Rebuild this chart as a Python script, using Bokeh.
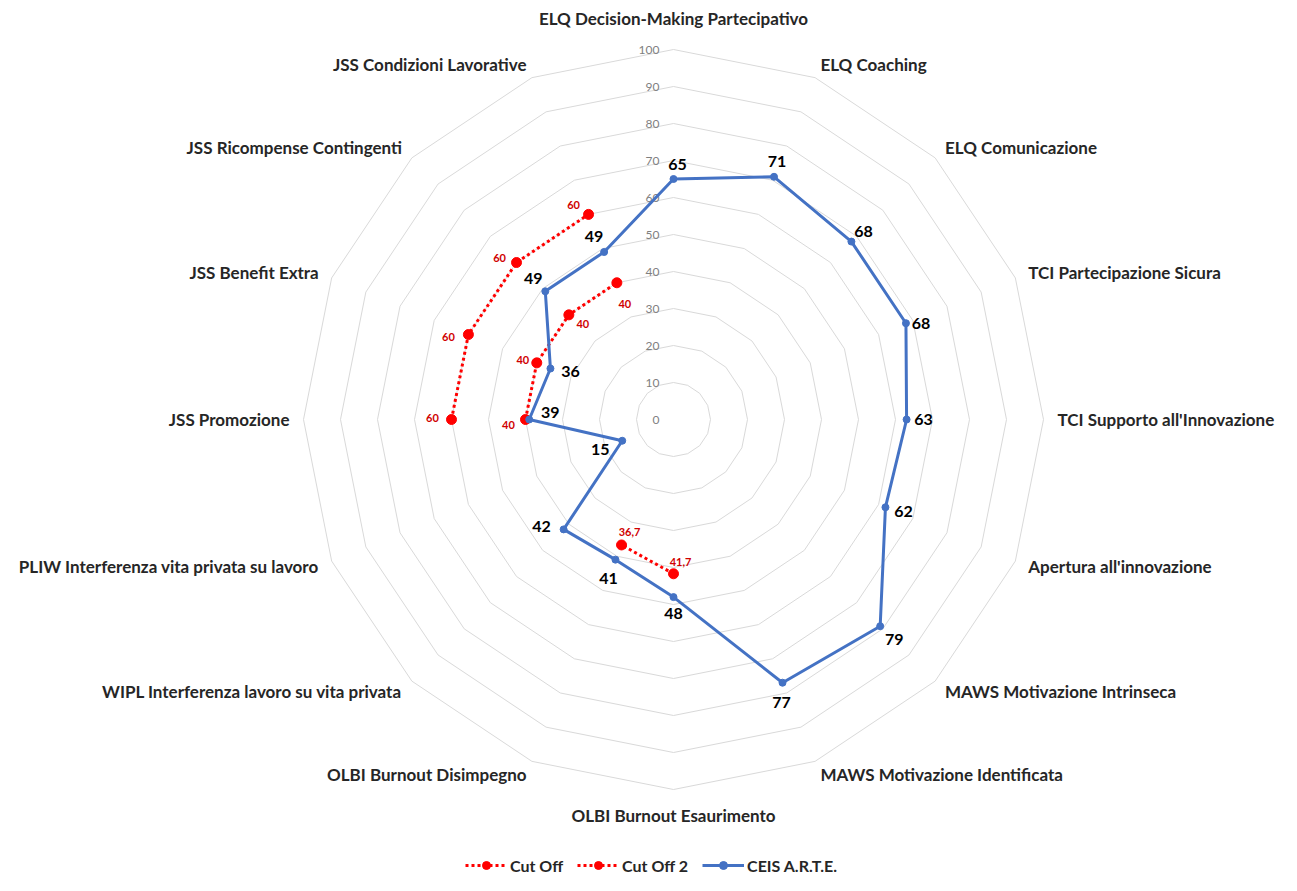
import math
from bokeh.plotting import figure
from bokeh.models import ColumnDataSource, Range1d, Legend, LegendItem
from bokeh.core.properties import value
from bokeh.embed import file_html
from bokeh.resources import INLINE

# ---------------- data ----------------
categories = [
    "ELQ Decision-Making Partecipativo",
    "ELQ Coaching",
    "ELQ Comunicazione",
    "TCI Partecipazione Sicura",
    "TCI Supporto all'Innovazione",
    "Apertura all'innovazione",
    "MAWS Motivazione Intrinseca",
    "MAWS Motivazione Identificata",
    "OLBI Burnout Esaurimento",
    "OLBI Burnout Disimpegno",
    "WIPL Interferenza lavoro su vita privata",
    "PLIW Interferenza vita privata su lavoro",
    "JSS Promozione",
    "JSS Benefit Extra",
    "JSS Ricompense Contingenti",
    "JSS Condizioni Lavorative",
]
ceis = [65, 71, 68, 68, 63, 62, 79, 77, 48, 41, 42, 15, 39, 36, 49, 49]
nan = float("nan")
cut_off = [nan, nan, nan, nan, nan, nan, nan, nan, 41.7, 36.7, nan, nan, 40, 40, 40, 40]
cut_off2 = [nan, nan, nan, nan, nan, nan, nan, nan, nan, nan, nan, nan, 60, 60, 60, 60]
ticks = [0, 10, 20, 30, 40, 50, 60, 70, 80, 90, 100]

# ---------------- layout ----------------
W, H = 1280, 875
S = 3.7             # pixels per value unit
CX, CY = 673, 419   # centre in canvas pixels
N = len(categories)
ang = [2 * math.pi * i / N for i in range(N)]

p = figure(width=W, height=H, output_backend="svg", toolbar_location=None,
           x_range=Range1d(-CX / S, (W - CX) / S),
           y_range=Range1d(-(H - CY) / S, CY / S),
           x_axis_type=None, y_axis_type=None, min_border=0)
p.grid.visible = False
p.outline_line_color = None
p.background_fill_color = "white"

FONT = value("Lato")

# rings
xs, ys = [], []
for t in ticks[1:]:
    xs.append([t * math.sin(a) for a in ang] + [0])
    ys.append([t * math.cos(a) for a in ang] + [t])
p.multi_line(xs, ys, line_color="#d9d9d9", line_width=1)

# tick labels
p.text(x=[-3.8] * len(ticks), y=ticks, text=[str(t) for t in ticks],
       text_font=FONT, text_font_size="12px", text_color="#7f7f7f",
       text_align="right", text_baseline="middle")

# category labels
RL = 384 / S
for align, cond in (("left", lambda s: s > 0.01), ("right", lambda s: s < -0.01),
                    ("center", lambda s: abs(s) <= 0.01)):
    lx, ly, lt = [], [], []
    for c, a in zip(categories, ang):
        s = math.sin(a)
        if cond(s):
            if abs(s) > 0.01:
                r = RL
            else:
                r = (401 if math.cos(a) > 0 else 396) / S
            lx.append(r * s)
            ly.append(r * math.cos(a))
            lt.append(c)
    p.text(x=lx, y=ly, text=lt, text_font=FONT, text_font_style="bold",
           text_font_size="17px", text_color="#262626",
           text_align=align, text_baseline="middle")


def xy(vals, close=False):
    x = [v * math.sin(a) for v, a in zip(vals, ang)]
    y = [v * math.cos(a) for v, a in zip(vals, ang)]
    if close:
        x.append(x[0]); y.append(y[0])
    return x, y


RED = "#ff0000"
BLUE = "#4472c4"

# Cut Off series
items = []
for name, vals in (("Cut Off", cut_off), ("Cut Off 2", cut_off2)):
    x, y = xy(vals)
    r1 = p.line(x, y, line_color=RED, line_width=3, line_dash="3 3")
    r2 = p.scatter(x, y, size=10, fill_color=RED, line_color=RED)
    items.append(LegendItem(label=name, renderers=[r1, r2]))

x, y = xy(ceis, close=True)
r1 = p.line(x, y, line_color=BLUE, line_width=3)
x, y = xy(ceis)
r2 = p.scatter(x, y, size=7, fill_color=BLUE, line_color=BLUE)
items.append(LegendItem(label="CEIS A.R.T.E.", renderers=[r1, r2]))

# blue data labels (pixel offsets of label from point; y down)
blue_off = [(4, -15), (3, -15), (12, -10), (15, 0), (17, 0), (18, 4), (14, 13), (-1, 20),
            (0, 16), (-7, 19), (-22, -3), (-22, 9), (21, -7), (20, 3), (-12, -13), (-10, -16)]
x, y = xy(ceis)
src = ColumnDataSource(dict(x=x, y=y, t=[str(v) for v in ceis],
                            dx=[o[0] for o in blue_off], dy=[o[1] for o in blue_off]))
p.text(x="x", y="y", text="t", x_offset="dx", y_offset="dy", source=src,
       text_font=FONT, text_font_style="bold", text_font_size="16px",
       text_color="#000000", text_align="center", text_baseline="middle")

# red data labels
red_off = {
    "Cut Off": {8: (7, -12), 9: (8, -13), 12: (-17, 5), 13: (-14, -3), 14: (14, 9), 15: (8, 21)},
    "Cut Off 2": {12: (-19, -2), 13: (-20, 2), 14: (-17, -5), 15: (-15, -9)},
}
for name, vals in (("Cut Off", cut_off), ("Cut Off 2", cut_off2)):
    lx, ly, lt, dx, dy = [], [], [], [], []
    for i, v in enumerate(vals):
        if v == v:
            lx.append(v * math.sin(ang[i])); ly.append(v * math.cos(ang[i]))
            lt.append(("%g" % v).replace(".", ","))
            o = red_off[name][i]
            dx.append(o[0]); dy.append(o[1])
    src = ColumnDataSource(dict(x=lx, y=ly, t=lt, dx=dx, dy=dy))
    p.text(x="x", y="y", text="t", x_offset="dx", y_offset="dy", source=src,
           text_font=FONT, text_font_style="bold", text_font_size="11px",
           text_color="#d00000", text_align="center", text_baseline="middle")

legend = Legend(items=items, orientation="horizontal", location=(465, 0),
                border_line_color=None, background_fill_alpha=0, padding=0, margin=0,
                glyph_width=42, label_standoff=3, spacing=14,
                label_text_font="Lato", label_text_font_style="bold",
                label_text_font_size="16px", label_text_color="#262626")
p.add_layout(legend)

open("out.html", "w").write(file_html(p, INLINE))
